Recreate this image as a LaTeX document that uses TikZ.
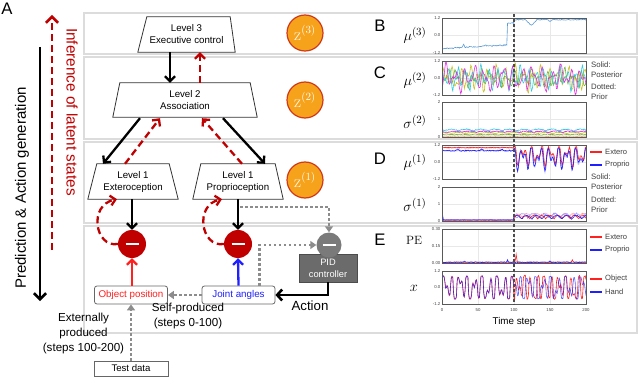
\documentclass[tikz,border=0pt]{standalone}
\usepackage[no-math]{fontspec}
\setmainfont{Liberation Sans}
\usetikzlibrary{arrows.meta}
\definecolor{dred}{HTML}{C00000}
\definecolor{zorange}{HTML}{F7A21B}
\definecolor{zborder}{HTML}{D03A1A}
\definecolor{bandc}{HTML}{DCDCDC}
\definecolor{dotgrey}{HTML}{8C8C8C}
\definecolor{pidgrey}{HTML}{6B6B6B}
\definecolor{cmag}{HTML}{E030E0}
\definecolor{ccyan}{HTML}{30C8DC}
\definecolor{cyel}{HTML}{C8C020}
\definecolor{cgrn}{HTML}{70B040}
\definecolor{corg}{HTML}{E08030}
\definecolor{pred}{HTML}{FF2020}
\definecolor{pblue}{HTML}{2020FF}
\definecolor{bthree}{HTML}{5B9BD5}
\definecolor{gridc}{HTML}{E8E8E8}
\begin{document}
\begin{tikzpicture}[x=1pt,y=-1pt,
  bandbox/.style={draw=bandc,line width=1.2pt,fill=white},
  lvl/.style={minimum height=35pt,inner sep=0pt,align=center,font=\fontsize{9.7}{12}\selectfont},
  trap/.style={draw=black!80,line width=0.8pt},
  zc/.style={circle,fill=zorange,draw=zborder,line width=1.2pt,minimum size=36pt,inner sep=0pt,text=white,font=\fontsize{16}{16}\selectfont},
  errc/.style={circle,fill=#1,minimum size=28pt,inner sep=0pt,
    path picture={\draw[white,line width=2.5pt] ([xshift=-6.5pt]path picture bounding box.center) -- ([xshift=6.5pt]path picture bounding box.center);}},
  sigbox/.style={draw=black!60,rounded corners=2.5pt,line width=0.8pt,minimum width=73pt,minimum height=18pt,inner sep=0pt,font=\fontsize{9.8}{11}\selectfont},
  blk/.style={draw=black,line width=2.3pt,-{Straight Barb[length=5pt,width=10pt]}},
  rdash/.style={draw=dred,line width=2.3pt,dash pattern=on 7pt off 4pt,-{Straight Barb[length=5pt,width=10pt]}},
  gdot/.style={draw=dotgrey,line width=2.5pt,dash pattern=on 2.5pt off 2.5pt,-{Triangle[length=6pt,width=8pt]}},
  lbl/.style={font=\fontsize{11.6}{15}\selectfont,align=center,inner sep=0pt},
  frm/.style={draw=black!65,line width=0.7pt},
  tck/.style={font=\fontsize{4.3}{5}\selectfont,anchor=east,inner sep=0.5pt,text=black!75},
  leg/.style={font=\fontsize{7.6}{9}\selectfont,anchor=west,inner sep=0pt,text=black!75},
  side/.style={font=\fontsize{7.8}{10}\selectfont,anchor=north west,align=left,inner sep=0pt,text=black!75},
  plbl/.style={font=\fontsize{15}{15}\selectfont},
  panel/.style={font=\fontsize{16.7}{17}\selectfont},
  grd/.style={draw=gridc,line width=0.5pt},
  dat/.style={line width=0.6pt}
]
\useasboundingbox (0,0) rectangle (640,377);

% bands
\path[bandbox] (84,13) rectangle (637,54);
\path[bandbox] (84,57) rectangle (637,139);
\path[bandbox] (84,142) rectangle (637,223);
\path[bandbox] (84,226) rectangle (637,333);

% panel A left arrows
\node[panel] (labA) at (7,9) {A};
\coordinate (pTop) at (40,47);
\coordinate (pBot) at (40,301);
\draw[draw=black,line width=2.6pt,-{Straight Barb[length=6pt,width=12pt]}] (pTop) -- (pBot);
\coordinate (iBot) at (52,250);
\coordinate (iTop) at (52,15);
\draw[draw=dred,line width=2.6pt,dash pattern=on 7pt off 4pt,-{Straight Barb[length=6pt,width=12pt]}] (iBot) -- (iTop);
\node[rotate=90,font=\fontsize{15}{15}\selectfont] (predtxt) at (22,188) {Prediction \& Action generation};
\node[rotate=-90,font=\fontsize{15.3}{15}\selectfont,text=dred] (inftxt) at (72,112) {Inference of latent states};

% levels
\node[lvl,minimum width=97pt] (L3) at (186.5,34.5) {Level 3\\Executive control};
\draw[trap] ([shift={(9,0)}]L3.north west) -- ([shift={(-5,0)}]L3.north east) -- (L3.south east) -- (L3.south west) -- cycle;
\node[lvl,minimum width=144pt,minimum height=34pt] (L2) at (185,100) {Level 2\\Association};
\draw[trap] ([shift={(7,0)}]L2.north west) -- ([shift={(-7,0)}]L2.north east) -- (L2.south east) -- (L2.south west) -- cycle;
\node[lvl,minimum width=90pt] (L1E) at (133,181.5) {Level 1\\Exteroception};
\draw[trap] ([shift={(9,0)}]L1E.north west) -- ([shift={(-9,0)}]L1E.north east) -- (L1E.south east) -- (L1E.south west) -- cycle;
\node[lvl,minimum width=90pt] (L1P) at (238,181.5) {Level 1\\Proprioception};
\draw[trap] ([shift={(8,0)}]L1P.north west) -- ([shift={(-8,0)}]L1P.north east) -- (L1P.south east) -- (L1P.south west) -- cycle;

% z circles
\node[zc] (z3) at (305,33) {$\mathrm{z}^{(3)}$};
\node[zc] (z2) at (305,100) {$\mathrm{z}^{(2)}$};
\node[zc] (z1) at (305,180) {$\mathrm{z}^{(1)}$};

% hierarchy arrows
\draw[blk] ([shift={(-16.5,0)}]L3.south) -- ([shift={(-15,0)}]L2.north);
\draw[rdash] ([shift={(15,0)}]L2.north) -- ([shift={(13.5,0)}]L3.south);
\draw[blk] ([shift={(-45,1)}]L2.south) -- ([shift={(-30,0)}]L1E.north);
\draw[rdash] ([shift={(-8,0)}]L1E.north) -- ([shift={(-25,1)}]L2.south);
\draw[blk] ([shift={(38,1)}]L2.south) -- ([shift={(27,0)}]L1P.north);
\draw[rdash] ([shift={(4,0)}]L1P.north) -- ([shift={(17,1)}]L2.south);

% error nodes
\node[errc=dred] (Em) at (132,244) {};
\node[errc=dred] (Pm) at (238,244) {};
\node[fill=pidgrey,draw=black!70,line width=0.6pt,minimum width=58pt,minimum height=28pt,inner sep=0pt,align=center,text=white,font=\fontsize{9.3}{12}\selectfont] (PID) at (328,268) {PID\\controller};
\node[errc=pidgrey!90,minimum size=25pt] (Gm) at (329,245) {};

% signal boxes
\node[sigbox,text=pred] (OP) at (131,295) {Object position};
\node[sigbox,text=pblue] (JA) at (238.5,295) {Joint angles};
\node[draw=black!60,line width=0.8pt,minimum width=74pt,minimum height=15pt,inner sep=0pt,font=\fontsize{9.6}{11}\selectfont] (TD) at (131,368.5) {Test data};

% prediction into error
\draw[blk] ([shift={(-1,0)}]L1E.south) -- (Em.north);
\draw[blk] (L1P.south) -- (Pm.north);
\draw[draw=pred,line width=2.3pt,-{Straight Barb[length=5pt,width=10pt]}] ([shift={(1,0)}]OP.north) -- (Em.south);
\draw[draw=pblue,line width=2.3pt,-{Straight Barb[length=5pt,width=10pt]}] (JA.north) -- (Pm.south);

% loops
\draw[rdash] (Em.west) .. controls (95,248) and (88,205) .. ([shift={(-16,0)}]L1E.south);
\draw[rdash] (Pm.west) .. controls (201,248) and (194,205) .. ([shift={(-16,0)}]L1P.south);

% dotted grey
\draw[gdot] ([shift={(2,8)}]L1P.south) -| (Gm.north);
\draw[gdot] ([shift={(21,0)}]JA.north) |- (Gm.west);
\draw[gdot] (JA.west) -- (OP.east);
\draw[gdot] (TD.north) -- (OP.south);

% action
\draw[draw=black,line width=2.6pt,-{Straight Barb[length=5pt,width=11pt]}] (PID.south) |- (JA.east);
\node[font=\fontsize{13.3}{14}\selectfont] (act) at (310,306) {Action};
\node[lbl] (selfp) at (188,315.5) {Self-produced\\(steps 0-100)};
\node[lbl] (extp) at (83.5,333) {Externally\\produced\\(steps 100-200)};

% ================= right plots =================
\foreach \ya/\yb in {18/53,61/95,102/137,145/179,187/221,229/263,271/304}{
  \draw[grd] (478,\ya) -- (478,\yb);
  \draw[grd] (514,\ya) -- (514,\yb);
  \draw[grd] (550,\ya) -- (550,\yb);
  \draw[grd] (442,{(\ya+\yb)/2}) -- (586,{(\ya+\yb)/2});
}

\node[panel] (pB) at (380,26) {B};
\node[panel] (pC) at (380,73) {C};
\node[panel] (pD) at (380,159) {D};
\node[panel] (pE) at (380,240) {E};
\node[plbl] (m3) at (415,35) {$\mu^{(3)}$};
\node[plbl] (m2) at (415,80) {$\mu^{(2)}$};
\node[plbl] (s2) at (415,122) {$\sigma^{(2)}$};
\node[plbl] (m1) at (415,162) {$\mu^{(1)}$};
\node[plbl] (s1) at (415,205) {$\sigma^{(1)}$};
\node[font=\fontsize{13}{13}\selectfont] (pe) at (414,240) {$\mathrm{PE}$};
\node[plbl] (xx) at (414,288) {$x$};

\node[tck] (t1) at (441,18) {1.2};
\node[tck] (t2) at (441,35.5) {0.0};
\node[tck] (t3) at (441,53) {-1.2};
\node[tck] (t4) at (441,61) {1.2};
\node[tck] (t5) at (441,78) {0.0};
\node[tck] (t6) at (441,95) {-1.2};
\node[tck] (t7) at (441,102) {2};
\node[tck] (t8) at (441,119.5) {1};
\node[tck] (t9) at (441,137) {0};
\node[tck] (t10) at (441,145) {1.2};
\node[tck] (t11) at (441,162) {0.0};
\node[tck] (t12) at (441,179) {-1.2};
\node[tck] (t13) at (441,187) {2};
\node[tck] (t14) at (441,204) {1};
\node[tck] (t15) at (441,221) {0};
\node[tck] (t16) at (441,229) {0.30};
\node[tck] (t17) at (441,246) {0.15};
\node[tck] (t18) at (441,263) {0.00};
\node[tck] (t19) at (441,271) {1.2};
\node[tck] (t20) at (441,287.5) {0.0};
\node[tck] (t21) at (441,304) {-1.2};
\foreach \v in {0,50,100,150,200}{
  \node[font=\fontsize{4.3}{5}\selectfont,inner sep=0pt,text=black!75] (xt\v) at ({442+0.72*\v},310) {\v};
}
\node[font=\fontsize{9.8}{11}\selectfont] (tstep) at (514,322) {Time step};

\pgfmathsetseed{3}
\begin{scope}
\clip (442,18) rectangle (586,53);
\draw[dat,bthree] plot[domain=0:200,samples=201,variable=\t] ({442+0.72*\t},{35.5-14.58*(ifthenelse(\t<91,-0.9+0.0028*\t+0.04*rand+0.25*max(0,1-abs(\t-30)/2)+0.08*max(0,1-abs(\t-60)/3),ifthenelse(\t<100,0.85+0.03*rand,1.08+0.03*rand-0.4*max(0,1-abs(\t-124)/8)-0.1*max(0,1-abs(\t-150)/4))))});
\end{scope}

\begin{scope}
\clip (442,61) rectangle (586,95);
\draw[dat,cyel] plot[domain=0:200,samples=201,variable=\t] ({442+0.72*\t},{78-14.17*(0.5*sin(29*\t+40)+0.35*sin(53*\t+70)+0.2*sin(11*\t+20)+0.1*rand)});
\draw[dat,cgrn] plot[domain=0:200,samples=201,variable=\t] ({442+0.72*\t},{78-14.17*(0.35*sin(31*\t+200)+0.25*sin(47*\t+10)+0.15*sin(7*\t)+0.1*rand)});
\draw[dat,ccyan] plot[domain=0:200,samples=201,variable=\t] ({442+0.72*\t},{78-14.17*(0.5*sin(33*\t+100)+0.3*sin(59*\t+150)+0.2*sin(13*\t+90)+0.1*rand)});
\draw[dat,cmag] plot[domain=0:200,samples=201,variable=\t] ({442+0.72*\t},{78-14.17*(0.55*sin(27*\t+300)+0.35*sin(43*\t+220)+0.2*sin(9*\t+40)+0.1*rand)});
\end{scope}

\begin{scope}
\clip (442,102) rectangle (586,137);
\draw[dat,corg] plot[domain=0:200,samples=201,variable=\t] ({442+0.72*\t},{137-17.5*(0.04+0.02*rnd)});
\draw[dat,cgrn] plot[domain=0:200,samples=201,variable=\t] ({442+0.72*\t},{137-17.5*(0.12+0.04*abs(sin(9*\t+20))+0.02*rand)});
\draw[dat,cyel] plot[domain=0:200,samples=201,variable=\t] ({442+0.72*\t},{137-17.5*(0.2+0.06*abs(sin(9*\t+60))+0.02*rand)});
\draw[dat,cmag] plot[domain=0:200,samples=201,variable=\t] ({442+0.72*\t},{137-17.5*(0.27+0.06*abs(sin(9*\t+110))+0.03*rand)});
\draw[dat,ccyan] plot[domain=0:200,samples=201,variable=\t] ({442+0.72*\t},{137-17.5*(0.36+0.08*abs(sin(9*\t+150))+0.03*rand)});
\end{scope}

\begin{scope}
\clip (442,145) rectangle (586,179);
\draw[dat,pred!40] plot[domain=0:200,samples=201,variable=\t] ({442+0.72*\t},{162-14.17*(ifthenelse(\t<100,1.0+0.03*rand,min(1.05,0.45+0.45*sin(29*\t+70)+0.4*sin(47*\t+20)+0.12*rand)))});
\draw[dat,pblue!40] plot[domain=0:200,samples=201,variable=\t] ({442+0.72*\t},{162-14.17*(ifthenelse(\t<100,0.8+0.04*rand,min(0.95,0.3+0.5*sin(29*\t+95)+0.45*sin(47*\t+40)+0.12*rand)))});
\draw[dat,pred] plot[domain=0:200,samples=201,variable=\t] ({442+0.72*\t},{162-14.17*(ifthenelse(\t<100,1.02+0.03*rand,min(1.08,0.5+0.45*sin(29*\t+60)+0.4*sin(47*\t+10)+0.08*rand)))});
\draw[dat,pblue] plot[domain=0:200,samples=201,variable=\t] ({442+0.72*\t},{162-14.17*(ifthenelse(\t<100,0.8+0.04*rand+0.15*max(0,1-abs(\t-22)/3)+0.12*max(0,1-abs(\t-55)/3)+0.1*max(0,1-abs(\t-83)/3),min(0.98,0.32+0.5*sin(29*\t+85)+0.45*sin(47*\t+30)+0.08*rand)))});
\end{scope}

\begin{scope}
\clip (442,187) rectangle (586,221);
\draw[dat,pred!45] plot[domain=0:200,samples=201,variable=\t] ({442+0.72*\t},{221-17*(ifthenelse(\t<100,0.05+0.02*rnd,0.15+0.25*abs(sin(14*\t+50))+0.08*rnd))});
\draw[dat,pblue!45] plot[domain=0:200,samples=201,variable=\t] ({442+0.72*\t},{221-17*(ifthenelse(\t<100,0.06+0.02*rnd,0.12+0.28*abs(sin(12*\t+10))+0.08*rnd))});
\draw[dat,pred] plot[domain=0:200,samples=201,variable=\t] ({442+0.72*\t},{221-17*(ifthenelse(\t<100,0.04+0.02*rnd,0.1+0.2*abs(sin(16*\t+30))+0.06*rnd))});
\draw[dat,pblue] plot[domain=0:200,samples=201,variable=\t] ({442+0.72*\t},{221-17*(ifthenelse(\t<100,0.05+0.02*rnd+0.5*max(0,1-\t/2),0.08+0.22*abs(sin(13*\t))+0.06*rnd))});
\end{scope}

\begin{scope}
\clip (442,229) rectangle (586,263);
\draw[dat,pred] plot[domain=0:200,samples=201,variable=\t] ({442+0.72*\t},{263-113.3*(0.004+0.005*rnd+0.07*max(0,1-abs(\t-103)/1.5)+0.02*max(0,1-abs(\t-181)/1.5))});
\draw[dat,pblue] plot[domain=0:200,samples=201,variable=\t] ({442+0.72*\t},{263-113.3*(0.004+0.006*rnd+0.022*max(0,1-abs(\t-91)/1.5)+0.012*max(0,1-abs(\t-31)/1.5)+0.01*max(0,1-abs(\t-150)/1.5))});
\end{scope}

\begin{scope}
\clip (442,271) rectangle (586,304);
\draw[dat,pred] plot[domain=0:200,samples=201,variable=\t] ({442+0.72*\t},{287.5-13.75*(ifthenelse(\t<100,0.85*tanh(2.5*(0.6*sin(34*\t)+0.45*sin(53*\t+40)+0.25*sin(15*\t+10))),0.85*tanh(2.5*(0.6*sin(38*\t+70)+0.45*sin(57*\t+10)+0.25*sin(13*\t+50)))+0.05*rand))});
\draw[dat,pblue,opacity=0.75] plot[domain=0:200,samples=201,variable=\t] ({442+0.72*\t},{287.5-13.75*(0.82*tanh(2.5*(0.6*sin(34*\t)+0.45*sin(53*\t+40)+0.25*sin(15*\t+10)))+0.04*rand)});
\end{scope}

\foreach \ya/\yb in {18/53,61/95,102/137,145/179,187/221,229/263,271/304}{
  \draw[frm] (442,\ya) rectangle (586,\yb);
}
\coordinate (vT) at (514,14);
\coordinate (vB) at (514,305);
\draw[black!70,line width=1.1pt,dash pattern=on 3pt off 2pt] (vT) -- (vB);

\node[side] (c1) at (591,62) {Solid:\\Posterior};
\node[side] (c2) at (591,84) {Dotted:\\Prior};
\coordinate (lDa) at (590,152); \coordinate (lDb) at (602,152);
\draw[pred,line width=1.6pt] (lDa) -- (lDb);
\node[leg] (lD1) at (605,152) {Extero};
\coordinate (lDc) at (590,165); \coordinate (lDd) at (602,165);
\draw[pblue,line width=1.6pt] (lDc) -- (lDd);
\node[leg] (lD2) at (605,165) {Proprio};
\node[side] (d1) at (591,174) {Solid:\\Posterior};
\node[side] (d2) at (591,197) {Dotted:\\Prior};
\coordinate (lEa) at (590,237); \coordinate (lEb) at (602,237);
\draw[pred,line width=1.6pt] (lEa) -- (lEb);
\node[leg] (lE1) at (605,237) {Extero};
\coordinate (lEc) at (590,250); \coordinate (lEd) at (602,250);
\draw[pblue,line width=1.6pt] (lEc) -- (lEd);
\node[leg] (lE2) at (605,250) {Proprio};
\coordinate (lXa) at (590,279); \coordinate (lXb) at (602,279);
\draw[pred,line width=1.6pt] (lXa) -- (lXb);
\node[leg] (lX1) at (605,279) {Object};
\coordinate (lXc) at (590,292); \coordinate (lXd) at (602,292);
\draw[pblue,line width=1.6pt] (lXc) -- (lXd);
\node[leg] (lX2) at (605,292) {Hand};
\end{tikzpicture}
\end{document}
